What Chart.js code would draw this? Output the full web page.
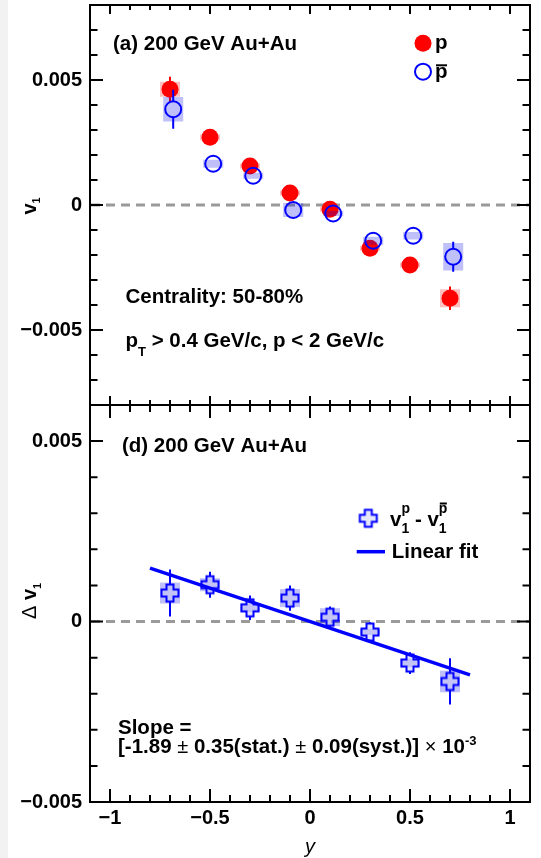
<!DOCTYPE html>
<html>
<head>
<meta charset="utf-8">
<script src="https://cdn.jsdelivr.net/npm/chart.js@4"></script>
<style>
  html, body { margin: 0; padding: 0; background: #fff; }
  #wrap { position: relative; width: 541px; height: 858px; overflow: hidden; }
  #strip { position: absolute; left: 0; top: 0; width: 8px; height: 858px; background: #f2f2f2; }
  #topChart { position: absolute; left: 0; top: 0; }
  #botChart { position: absolute; left: 0; top: 400px; }
</style>
</head>
<body>
<div id="wrap">
  <div id="strip"></div>
  <canvas id="topChart" width="541" height="406"></canvas>
  <canvas id="botChart" width="541" height="458"></canvas>
</div>
<script>
// rapidity bins
const rapidity = [-0.7, -0.5, -0.3, -0.1, 0.1, 0.3, 0.5, 0.7];
const pbarShift = 0.016;

// (a) v1 of protons and antiprotons
const v1Proton     = [0.00463, 0.00271, 0.00156, 0.00048, -0.00017, -0.00173, -0.00240, -0.00373];
const v1ProtonStat = [0.00050, 0.00020, 0.00020, 0.00020, 0.00020, 0.00020, 0.00020, 0.00047];
const v1ProtonSys  = [0.00030, 0.00012, 0.00010, 0.00010, 0.00010, 0.00010, 0.00010, 0.00036];
const v1Pbar       = [0.00383, 0.00165, 0.00117, -0.00020, -0.00034, -0.00143, -0.00123, -0.00207];
const v1PbarStat   = [0.00078, 0.00030, 0.00030, 0.00030, 0.00030, 0.00030, 0.00030, 0.00060];
const v1PbarSys    = [0.00049, 0.00016, 0.00012, 0.00028, 0.00010, 0.00016, 0.00015, 0.00055];

// (d) difference p - pbar and its linear fit
const dv1     = [0.00079, 0.00102, 0.00038, 0.00065, 0.00012, -0.00029, -0.00115, -0.00166];
const dv1Stat = [0.00065, 0.00036, 0.00034, 0.00035, 0.00030, 0.00027, 0.00030, 0.00064];
const dv1Sys  = [0.00029, 0.00018, 0.00012, 0.00025, 0.00025, 0.00008, 0.00012, 0.00030];
const fitX = [-0.8, 0.8];
const fitY = [0.00148, -0.00148];

// axes
const xTicks = [-1, -0.5, 0, 0.5, 1];
const xTickLabels = ['\u22121', '\u22120.5', '0', '0.5', '1'];
const yTicks = [-0.005, 0, 0.005];
const yTickLabels = ['\u22120.005', '0', '0.005'];

const FAM = '"Liberation Sans", Arial, sans-serif';
const B = s => 'bold ' + s + 'px ' + FAM;
const R = s => s + 'px ' + FAM;
const BLUE = '#0000ff';
const RED = '#ff0000';
const BLUE_BOX = 'rgba(0,0,230,0.25)';
const RED_BOX = 'rgba(255,0,0,0.25)';
const BOX_HALF = 0.05;

function pts(xs, ys, shift) {
  return xs.map((x, i) => ({ x: x + shift, y: ys[i] }));
}

function minorTicks(min, max, step) {
  const out = [];
  for (let i = Math.ceil(min / step - 1e-6); i <= Math.floor(max / step + 1e-6); i++) out.push(i * step);
  return out;
}

function isMajor(v, list) {
  return list.some(t => Math.abs(t - v) < 1e-9);
}

function makeCross() {
  const c = document.createElement('canvas');
  c.width = 22; c.height = 22;
  const g = c.getContext('2d');
  const m = 11, a = 8.5, b = 3.5;
  g.beginPath();
  g.moveTo(m - b, m - a); g.lineTo(m + b, m - a); g.lineTo(m + b, m - b);
  g.lineTo(m + a, m - b); g.lineTo(m + a, m + b); g.lineTo(m + b, m + b);
  g.lineTo(m + b, m + a); g.lineTo(m - b, m + a); g.lineTo(m - b, m + b);
  g.lineTo(m - a, m + b); g.lineTo(m - a, m - b); g.lineTo(m - b, m - b);
  g.closePath();
  g.fillStyle = 'rgba(200,200,245,0.45)';
  g.fill();
  g.strokeStyle = BLUE;
  g.lineWidth = 2;
  g.stroke();
  return c;
}
const crossImg = makeCross();

// text made of pieces: {t, font, dy, stay, bar}
function drawRuns(ctx, x, y, runs) {
  let cx = x;
  ctx.fillStyle = '#000';
  ctx.textBaseline = 'alphabetic';
  ctx.textAlign = 'left';
  for (const r of runs) {
    ctx.font = r.font;
    ctx.fillText(r.t, cx, y + (r.dy || 0));
    const w = ctx.measureText(r.t).width;
    if (r.bar !== undefined) ctx.fillRect(cx + 1, y + r.bar, w - 1.5, 2);
    if (!r.stay) cx += w;
  }
}

// error bars and systematic boxes, drawn under each dataset's markers
const errorBoxes = {
  id: 'errorBoxes',
  beforeDatasetDraw(chart, args) {
    const ds = chart.data.datasets[args.index];
    if (!ds.statErr) return;
    const { ctx, scales: { x, y } } = chart;
    ctx.save();
    ds.data.forEach((p, i) => {
      const px = x.getPixelForValue(p.x), py = y.getPixelForValue(p.y);
      const bx0 = x.getPixelForValue(p.x - BOX_HALF), bx1 = x.getPixelForValue(p.x + BOX_HALF);
      const by0 = y.getPixelForValue(p.y + ds.sysErr[i]), by1 = y.getPixelForValue(p.y - ds.sysErr[i]);
      ctx.fillStyle = ds.boxColor;
      ctx.fillRect(bx0, by0, bx1 - bx0, by1 - by0);
      const top = y.getPixelForValue(p.y + ds.statErr[i]), bot = y.getPixelForValue(p.y - ds.statErr[i]);
      if (py - top > ds.gap) {
        ctx.strokeStyle = ds.errColor;
        ctx.lineWidth = 2;
        ctx.beginPath();
        ctx.moveTo(px, top); ctx.lineTo(px, py - ds.gap);
        ctx.moveTo(px, py + ds.gap); ctx.lineTo(px, bot);
        ctx.stroke();
      }
    });
    ctx.restore();
  }
};

// frame, inward ticks, zero line and texts
function panelPlugin(cfg) {
  return {
    id: 'panel',
    beforeDatasetsDraw(chart) {
      const { ctx, chartArea: a, scales: { y } } = chart;
      const py = y.getPixelForValue(0);
      ctx.save();
      ctx.strokeStyle = '#9a9a9a';
      ctx.lineWidth = 3;
      ctx.setLineDash([9, 6]);
      ctx.beginPath();
      ctx.moveTo(a.left + 1, py); ctx.lineTo(a.right, py);
      ctx.stroke();
      ctx.restore();
    },
    afterDraw(chart) {
      const { ctx, chartArea: a, scales: { x, y } } = chart;
      ctx.save();
      ctx.strokeStyle = '#000';
      ctx.lineWidth = 2;
      ctx.strokeRect(a.left, a.top, a.right - a.left, a.bottom - a.top);
      ctx.beginPath();
      for (const v of minorTicks(y.min, y.max, 0.001)) {
        const p = y.getPixelForValue(v);
        if (p <= a.top + 1 || p >= a.bottom - 1) continue;
        const len = isMajor(v, yTicks) ? 13 : 7.5;
        ctx.moveTo(a.left, p); ctx.lineTo(a.left + len, p);
        ctx.moveTo(a.right, p); ctx.lineTo(a.right - len, p);
      }
      for (const v of minorTicks(x.min, x.max, 0.1)) {
        const p = x.getPixelForValue(v);
        if (p <= a.left + 1 || p >= a.right - 1) continue;
        const len = isMajor(v, xTicks) ? cfg.xMaj : cfg.xMin;
        ctx.moveTo(p, a.top); ctx.lineTo(p, a.top + len);
        ctx.moveTo(p, a.bottom); ctx.lineTo(p, a.bottom - len);
      }
      ctx.stroke();
      ctx.restore();
      ctx.save();
      cfg.texts(ctx, chart);
      ctx.restore();
    }
  };
}

function options(p) {
  return {
    responsive: false,
    animation: false,
    devicePixelRatio: 1,
    events: [],
    layout: { padding: p.padding, autoPadding: false },
    plugins: { legend: { display: false }, tooltip: { enabled: false } },
    scales: {
      x: {
        type: 'linear', min: -1.1, max: 1.1, display: p.showX,
        grid: { display: false, drawTicks: false }, border: { display: false },
        afterBuildTicks: s => { s.ticks = xTicks.map(v => ({ value: v })); },
        afterFit: s => { s.paddingLeft = 0; s.paddingRight = 0; if (p.showX) s.height = p.xHeight; },
        ticks: { callback: (v, i) => xTickLabels[i], font: { family: FAM, weight: 'bold', size: 20, lineHeight: 0.2 },
                 color: '#000', padding: 14, maxRotation: 0, autoSkip: false }
      },
      y: {
        type: 'linear', min: p.yMin, max: p.yMax,
        grid: { display: false, drawTicks: false }, border: { display: false },
        afterBuildTicks: s => { s.ticks = yTicks.map(v => ({ value: v })); },
        afterFit: s => { s.width = 90; s.paddingTop = 0; s.paddingBottom = 0; },
        ticks: { callback: (v, i) => yTickLabels[i], font: { family: FAM, weight: 'bold', size: 20, lineHeight: 0.2 },
                 color: '#000', padding: 8, autoSkip: false }
      }
    }
  };
}

// ---- panel (a)
new Chart(document.getElementById('topChart'), {
  type: 'scatter',
  data: {
    datasets: [
      {
        label: 'pbar', data: pts(rapidity, v1Pbar, pbarShift), order: 1,
        pointStyle: 'circle', pointRadius: 8, pointBackgroundColor: 'rgba(0,0,0,0)',
        pointBorderColor: BLUE, pointBorderWidth: 2,
        statErr: v1PbarStat, sysErr: v1PbarSys, boxColor: BLUE_BOX, errColor: BLUE, gap: 8
      },
      {
        label: 'p', data: pts(rapidity, v1Proton, 0), order: 2,
        pointStyle: 'circle', pointRadius: 8.5, pointBackgroundColor: RED,
        pointBorderColor: RED, pointBorderWidth: 0,
        statErr: v1ProtonStat, sysErr: v1ProtonSys, boxColor: RED_BOX, errColor: RED, gap: 8
      }
    ]
  },
  options: options({ padding: { top: 5, right: 11, bottom: 1, left: 0 }, showX: false, yMin: -0.008, yMax: 0.008 }),
  plugins: [errorBoxes, panelPlugin({
    xMaj: 9, xMin: 5,
    texts(ctx) {
      drawRuns(ctx, 113, 50, [{ t: '(a) 200 GeV Au+Au', font: B(20.5) }]);
      drawRuns(ctx, 125.5, 303, [{ t: 'Centrality: 50-80%', font: B(20.5) }]);
      drawRuns(ctx, 125.5, 347, [
        { t: 'p', font: B(20.5) }, { t: 'T', font: B(13), dy: 9 },
        { t: ' > 0.4 GeV/c, p < 2 GeV/c', font: B(20.5) }
      ]);
      // legend
      ctx.fillStyle = RED;
      ctx.beginPath(); ctx.arc(423, 43.3, 8.5, 0, Math.PI * 2); ctx.fill();
      ctx.strokeStyle = BLUE; ctx.lineWidth = 2;
      ctx.beginPath(); ctx.arc(423, 71.7, 8, 0, Math.PI * 2); ctx.stroke();
      drawRuns(ctx, 435, 48.7, [{ t: 'p', font: B(20.5) }]);
      drawRuns(ctx, 435, 78, [{ t: 'p', font: B(20.5), bar: -13.7 }]);
      // y title
      ctx.translate(35.5, 206);
      ctx.rotate(-Math.PI / 2);
      drawRuns(ctx, -8.5, 0, [{ t: 'v', font: B(20) }, { t: '1', font: B(11), dy: 4.5 }]);
    }
  })]
});

// ---- panel (d)
new Chart(document.getElementById('botChart'), {
  type: 'scatter',
  data: {
    datasets: [
      {
        label: 'Linear fit', type: 'line', data: pts(fitX, fitY, 0), order: 0,
        showLine: true, borderColor: BLUE, borderWidth: 3.5, pointRadius: 0, fill: false
      },
      {
        label: 'v1p - v1pbar', data: pts(rapidity, dv1, 0), order: 1,
        pointStyle: crossImg, pointRadius: 9,
        statErr: dv1Stat, sysErr: dv1Sys, boxColor: BLUE_BOX, errColor: BLUE, gap: 8.5
      }
    ]
  },
  options: options({ padding: { top: 5, right: 11, bottom: 0, left: 0 }, showX: true, xHeight: 56, yMin: -0.005, yMax: 0.006 }),
  plugins: [errorBoxes, panelPlugin({
    xMaj: 13, xMin: 7,
    texts(ctx) {
      const o = -400;
      drawRuns(ctx, 122, 452 + o, [{ t: '(d) 200 GeV Au+Au', font: B(20.5) }]);
      // legend
      ctx.drawImage(crossImg, 368.3 - 11, 518.3 + o - 11);
      drawRuns(ctx, 390, 526 + o, [
        { t: 'v', font: B(20.5) },
        { t: 'p', font: B(14), dy: -13, stay: true },
        { t: '1', font: B(14), dy: 6.5 },
        { t: ' - ', font: B(20.5) },
        { t: 'v', font: B(20.5) },
        { t: 'p', font: B(14), dy: -13, stay: true, bar: -23.5 },
        { t: '1', font: B(14), dy: 6.5 }
      ]);
      ctx.strokeStyle = BLUE; ctx.lineWidth = 3.5;
      ctx.beginPath(); ctx.moveTo(356.7, 551.7 + o); ctx.lineTo(385, 551.7 + o); ctx.stroke();
      drawRuns(ctx, 391.7, 558.3 + o, [{ t: 'Linear fit', font: B(20.5) }]);
      // slope
      drawRuns(ctx, 118, 734 + o, [{ t: 'Slope =', font: B(20.5) }]);
      drawRuns(ctx, 118, 753 + o, [
        { t: '[-1.89 ', font: B(20.5) }, { t: '\u00b1', font: R(20) },
        { t: ' 0.35(stat.) ', font: B(20.5) }, { t: '\u00b1', font: R(20) },
        { t: ' 0.09(syst.)] ', font: B(20.5) }, { t: '\u00d7', font: R(20) },
        { t: ' 10', font: B(20.5) }, { t: '-3', font: B(13), dy: -8 }
      ]);
      // x title
      ctx.font = 'italic 20px ' + FAM;
      ctx.textAlign = 'center';
      ctx.fillText('y', 310, 853 + o);
      // y title
      ctx.translate(36, 601 + o);
      ctx.rotate(-Math.PI / 2);
      drawRuns(ctx, -18, 0, [
        { t: '\u0394 ', font: R(20) }, { t: 'v', font: B(20) }, { t: '1', font: B(11), dy: 4.5 }
      ]);
    }
  })]
});
</script>
</body>
</html>
